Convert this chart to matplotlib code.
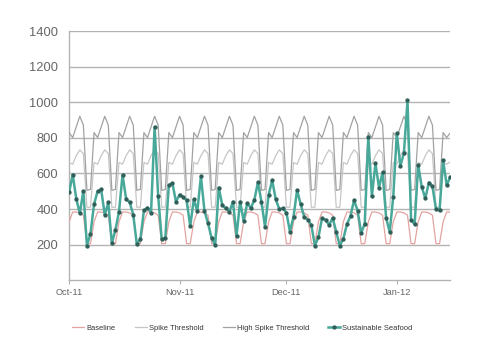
import matplotlib
matplotlib.use("Agg")
import matplotlib.pyplot as plt
import pandas as pd

plt.rcParams['font.family'] = ['Liberation Sans', 'DejaVu Sans']

start_date = "2011-10-01"
n_days = 108

baseline = [
    328, 383, 383, 378, 365, 205, 205,
    328, 383, 383, 378, 365, 205, 205,
    328, 383, 383, 378, 365, 205, 205,
    328, 383, 383, 378, 365, 205, 205,
    328, 383, 383, 378, 365, 205, 205,
    328, 383, 383, 378, 365, 205, 205,
    328, 383, 383, 378, 365, 205, 205,
    328, 383, 383, 378, 365, 205, 205,
    328, 383, 383, 378, 365, 205, 205,
    328, 383, 383, 378, 365, 205, 205,
    328, 383, 383, 378, 365, 205, 205,
    328, 383, 383, 378, 365, 205, 205,
    328, 383, 383, 378, 365, 205, 205,
    328, 383, 383, 378, 365, 205, 205,
    328, 383, 383, 378, 365, 205, 205,
    328, 383, 383,
]

spike_threshold = [
    662, 652, 700, 733, 712, 410, 410,
    662, 652, 700, 733, 712, 410, 410,
    662, 652, 700, 733, 712, 410, 410,
    662, 652, 700, 733, 712, 410, 410,
    662, 652, 700, 733, 712, 410, 410,
    662, 652, 700, 733, 712, 410, 410,
    662, 652, 700, 733, 712, 410, 410,
    662, 652, 700, 733, 712, 410, 410,
    662, 652, 700, 733, 712, 410, 410,
    662, 652, 700, 733, 712, 410, 410,
    662, 652, 700, 733, 712, 410, 410,
    662, 652, 700, 733, 712, 410, 410,
    662, 652, 700, 733, 712, 410, 410,
    662, 652, 700, 733, 712, 410, 410,
    662, 652, 700, 733, 712, 410, 410,
    662, 652, 665,
]

high_spike_threshold = [
    830, 802, 862, 922, 872, 505, 510,
    830, 802, 862, 922, 872, 505, 510,
    830, 802, 862, 922, 872, 505, 510,
    830, 802, 862, 922, 872, 505, 510,
    830, 802, 862, 922, 872, 505, 510,
    830, 802, 862, 922, 872, 505, 510,
    830, 802, 862, 922, 872, 505, 510,
    830, 802, 862, 922, 872, 505, 510,
    830, 802, 862, 922, 872, 505, 510,
    830, 802, 862, 922, 872, 505, 510,
    830, 802, 862, 922, 872, 505, 510,
    830, 802, 862, 922, 872, 505, 510,
    830, 802, 862, 922, 872, 505, 510,
    830, 802, 862, 922, 872, 505, 510,
    830, 802, 862, 922, 872, 505, 510,
    830, 802, 828,
]

sustainable_seafood = [
    495, 594, 459, 375, 502, 194, 262, 427, 500, 510, 367, 437, 206, 283,
    384, 592, 457, 437, 369, 202, 230, 392, 408, 380,
    862, 473, 230, 237, 535, 545, 441, 481, 468, 448, 303, 454, 389, 585,
    389, 319, 237,
    196, 521, 422, 404, 385, 441, 249, 441, 333, 432, 406, 450, 550, 440,
    300, 478, 562, 455, 400, 403, 380,
    272, 357, 506, 427, 356, 340, 310, 194, 242, 347, 339, 310, 350, 270,
    194, 234, 314, 361, 450, 391, 265, 317,
    808, 472, 657, 521, 606, 351, 270, 468, 826, 641, 717, 1011, 340, 313,
    647, 524, 460, 549, 528, 398, 392, 675, 534, 580,
]

month_ticks = ["2011-10-01", "2011-11-01", "2011-12-01", "2012-01-01"]
month_labels = ["Oct-11", "Nov-11", "Dec-11", "Jan-12"]
y_ticks = [200, 400, 600, 800, 1000, 1200, 1400]

dates = pd.date_range(start_date, periods=n_days, freq="D")

fig = plt.figure(figsize=(4.8, 3.6), dpi=100)
ax = fig.add_axes([0.144, 0.222, 0.794, 0.691])

ax.plot(dates, baseline, color="#e3a3a0", lw=0.9, label="Baseline", zorder=3)
ax.plot(dates, spike_threshold, color="#c6c6c6", lw=0.9, label="Spike Threshold", zorder=3)
ax.plot(dates, high_spike_threshold, color="#a2a2a2", lw=0.9, label="High Spike Threshold", zorder=3)
ax.plot(dates, sustainable_seafood, color="#48a899", lw=1.8, marker="o", ms=2.1,
        mfc="#2f5f58", mec="#2f5f58", label="Sustainable Seafood", zorder=4)

ax.set_ylim(0, 1400)
ax.set_yticks(y_ticks)
ax.set_xlim(dates[0], dates[-1])
ax.set_xticks(pd.to_datetime(month_ticks))
ax.set_xticklabels(month_labels)

ax.grid(axis="y", color="#b3b3b3", lw=1.0, zorder=1)
ax.set_axisbelow(True)
for s in ["top", "right"]:
    ax.spines[s].set_visible(False)
for s in ["left", "bottom"]:
    ax.spines[s].set_color("#b3b3b3")
    ax.spines[s].set_linewidth(1.0)

ax.tick_params(axis="y", length=0, pad=8, labelsize=9.3, labelcolor="#666666")
ax.tick_params(axis="x", length=3, color="#b3b3b3", pad=3, labelsize=6.7, labelcolor="#666666")

leg = fig.legend(loc="center", bbox_to_anchor=(0.505, 0.089), ncol=4, frameon=False,
                 fontsize=5.4, handlelength=1.6, handletextpad=0.25, columnspacing=2.6,
                 labelcolor="#333333")

fig.savefig("out.png", dpi=100)
